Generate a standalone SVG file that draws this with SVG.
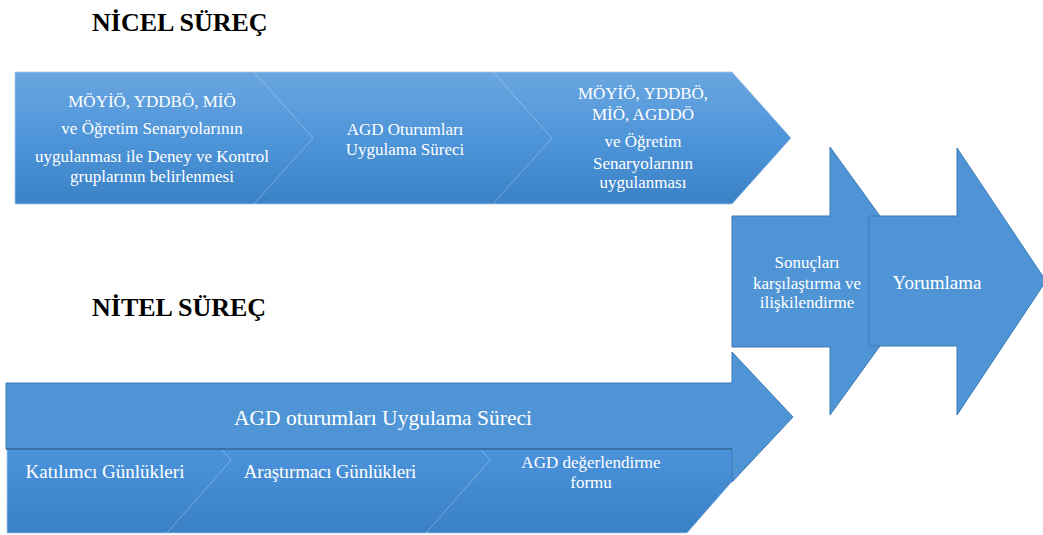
<svg xmlns="http://www.w3.org/2000/svg" width="1043" height="535" viewBox="0 0 1043 535">
<style>
.title{font-family:"Liberation Serif","Times New Roman",serif;font-weight:bold;font-size:26px;fill:#000}
.t{font-family:"Liberation Serif","Times New Roman",serif;font-size:17px;fill:#fff;text-anchor:middle}
.t19{font-family:"Liberation Serif","Times New Roman",serif;font-size:19px;fill:#fff;text-anchor:middle}
.t21{font-family:"Liberation Serif","Times New Roman",serif;font-size:21.5px;fill:#fff;text-anchor:middle}
.flat{fill:#4f95d5;stroke:#3c79b3;stroke-width:1}
.sep{fill:none;stroke:#ffffff;stroke-opacity:0.3;stroke-width:1}
</style>
<defs>
<linearGradient id="gTop" x1="0" y1="0" x2="0" y2="1">
<stop offset="0" stop-color="#6aa6e1"/>
<stop offset="0.5" stop-color="#4f95d9"/>
<stop offset="1" stop-color="#3a81c6"/>
</linearGradient>
<linearGradient id="gBot" x1="0" y1="0" x2="0" y2="1">
<stop offset="0" stop-color="#5a9ee0"/>
<stop offset="0.45" stop-color="#4a92da"/>
<stop offset="1" stop-color="#3a80c5"/>
</linearGradient>
</defs>
<rect width="1043" height="535" fill="#ffffff"/>

<g id="title-nicel"><text class="title" x="92" y="31">NİCEL SÜREÇ</text></g>
<g id="title-nitel"><text class="title" x="92" y="316">NİTEL SÜREÇ</text></g>

<g id="nicel-band">
<polygon points="15,72 732,72 791,138 732,204 15,204" fill="url(#gTop)" stroke="#a9c8e6" stroke-width="0.8"/>
</g>
<g id="connectors">
<polyline class="sep" points="254,72 313,138 254,204"/>
<polyline class="sep" points="493,72 552,138 493,204"/>
</g>
<g id="nicel-1">
<text class="t" x="152" y="107">MÖYİÖ, YDDBÖ, MİÖ</text>
<text class="t" x="152" y="134">ve Öğretim Senaryolarının</text>
<text class="t" x="152" y="162">uygulanması ile Deney ve Kontrol</text>
<text class="t" x="152" y="182">gruplarının belirlenmesi</text>
</g>
<g id="nicel-2">
<text class="t" x="405" y="135">AGD Oturumları</text>
<text class="t" x="405" y="155">Uygulama Süreci</text>
</g>
<g id="nicel-3">
<text class="t" x="643" y="99">MÖYİÖ, YDDBÖ,</text>
<text class="t" x="643" y="120">MİÖ, AGDDÖ</text>
<text class="t" x="643" y="147">ve Öğretim</text>
<text class="t" x="643" y="169">Senaryolarının</text>
<text class="t" x="643" y="188">uygulanması</text>
</g>

<g id="sonuclar">
<polygon class="flat" points="732,216 830,216 830,147 927,281 830,415 830,347 732,347"/>
<text class="t" x="807" y="268">Sonuçları</text>
<text class="t" x="807" y="289">karşılaştırma ve</text>
<text class="t" x="807" y="308">ilişkilendirme</text>
</g>
<g id="yorumlama">
<polygon class="flat" points="869,216 957,216 957,148 1046,281 957,415 957,346 869,346"/>
<text class="t19" x="937" y="289">Yorumlama</text>
</g>

<g id="nitel-band">
<polygon points="7,387 687,387 751,460 687,533 7,533" fill="url(#gBot)" stroke="#a9c8e6" stroke-width="0.8"/>
<polyline class="sep" points="167,387 231,460 167,533"/>
<polyline class="sep" points="426,387 490,460 426,533"/>
</g>
<g id="nitel-header">
<polygon class="flat" points="6,383 732,383 732,352 793,417 732,482 732,449 6,449"/>
<line x1="6" y1="449" x2="732" y2="449" stroke="#35699a" stroke-width="1.5"/>
<text class="t21" x="383" y="425">AGD oturumları Uygulama Süreci</text>
</g>
<g id="nitel-1"><text class="t19" x="105" y="478">Katılımcı Günlükleri</text></g>
<g id="nitel-2"><text class="t19" x="330" y="478" letter-spacing="-0.2">Araştırmacı Günlükleri</text></g>
<g id="nitel-3">
<text class="t" x="591" y="468">AGD değerlendirme</text>
<text class="t" x="591" y="488">formu</text>
</g>
</svg>
